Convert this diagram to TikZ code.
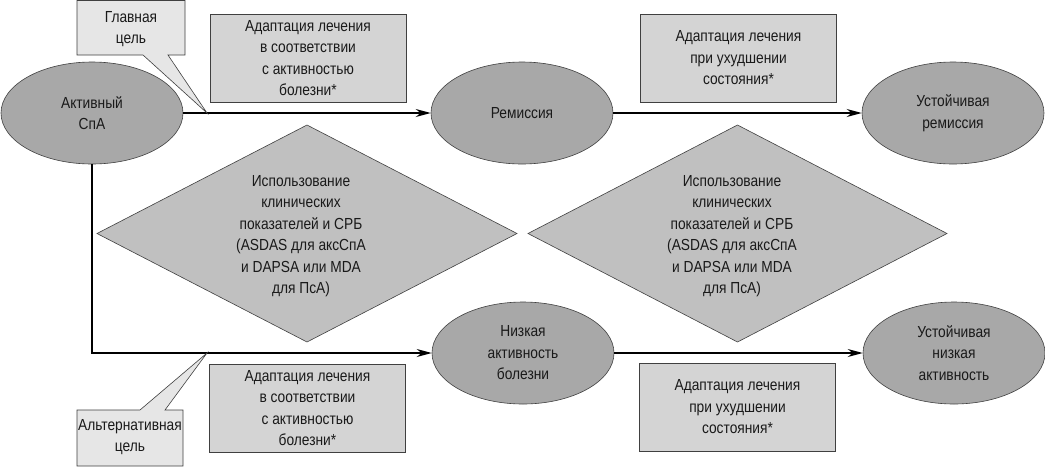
\documentclass[tikz,border=0pt]{standalone}
\usepackage{fontspec}
\setmainfont{Liberation Sans}[FakeStretch=0.86]
\usetikzlibrary{shapes.geometric,arrows.meta}
\definecolor{ellfill}{HTML}{A8A8A8}
\definecolor{diafill}{HTML}{C0C0C0}
\definecolor{boxfill}{HTML}{D4D4D4}
\definecolor{callfill}{HTML}{E6E6E6}
\definecolor{edge}{HTML}{404040}
\definecolor{txt}{HTML}{1A1A1A}
\begin{document}
\begin{tikzpicture}[x=1pt,y=-1pt,
  every node/.style={font=\fontsize{16}{21.5}\selectfont, text=txt, align=center},
  ell/.style={ellipse, draw=edge, line width=0.6pt, fill=ellfill, minimum width=182pt, minimum height=102pt, inner sep=0pt},
  boxnode/.style={rectangle, draw=edge, fill=boxfill, line width=0.6pt, minimum width=196pt, minimum height=88pt, inner sep=0pt},
  diashape/.style={draw=edge, fill=diafill, line width=0.6pt, line join=miter},
  callshape/.style={draw=edge, fill=callfill, line width=0.6pt},
  arr/.style={draw=black, line width=1.2pt, -{Stealth[length=15pt,width=8pt]}},
  plain/.style={inner sep=0pt}
]
\useasboundingbox (0,0) rectangle (1045,467);
\fill[white] (0,0) rectangle (1045,467);

% diamonds
\draw[diashape] (97,233.5) -- (307,125) -- (517,233.5) -- (307,342) -- cycle;
\node[plain] (dia1) at (301,236) {Использование\\клинических\\показателей и СРБ\\(ASDAS для аксСпА\\и DAPSA или MDA\\для ПсА)};
\draw[diashape] (528,233.5) -- (737.5,125) -- (947,233.5) -- (737.5,342) -- cycle;
\node[plain] (dia2) at (732,236) {Использование\\клинических\\показателей и СРБ\\(ASDAS для аксСпА\\и DAPSA или MDA\\для ПсА)};

% ellipses
\node[ell] (act) at (92,113) {Активный\\СпА};
\node[ell] (rem) at (522,113) {Ремиссия};
\node[ell] (srem) at (953,113) {Устойчивая\\ремиссия};
\node[ell] (low) at (523,353) {Низкая\\активность\\болезни};
\node[ell] (slow) at (954,353) {Устойчивая\\низкая\\активность};

% boxes
\node[boxnode] (b1) at (308,58) {Адаптация лечения\\в соответствии\\с активностью\\болезни*};
\node[boxnode] (b2) at (738.5,58) {Адаптация лечения\\при ухудшении\\состояния*};
\node[boxnode] (b3) at (307.5,408) {Адаптация лечения\\в соответствии\\с активностью\\болезни*};
\node[boxnode] (b4) at (737.5,407) {Адаптация лечения\\при ухудшении\\состояния*};

% connectors
\draw[arr] (act.east) -- (rem.west);
\draw[arr] (rem.east) -- (srem.west);
\draw[arr] (act.south) |- (low.west);
\draw[arr] (low.east) -- (slow.west);

% callouts
\coordinate (tipA) at (207,113);
\coordinate (tipB) at (207,353);
\draw[callshape] (77,0.5) -- (185,0.5) -- (185,55) -- (168,55) -- (tipA) -- (143,55) -- (77,55) -- cycle;
\node[plain] (gmain) at (131,29) {Главная\\цель};
\draw[callshape] (77,410) -- (140,410) -- (tipB) -- (165,410) -- (183,410) -- (183,466) -- (77,466) -- cycle;
\node[plain] (galt) at (130,437) {Альтернативная\\цель};
\end{tikzpicture}
\end{document}
